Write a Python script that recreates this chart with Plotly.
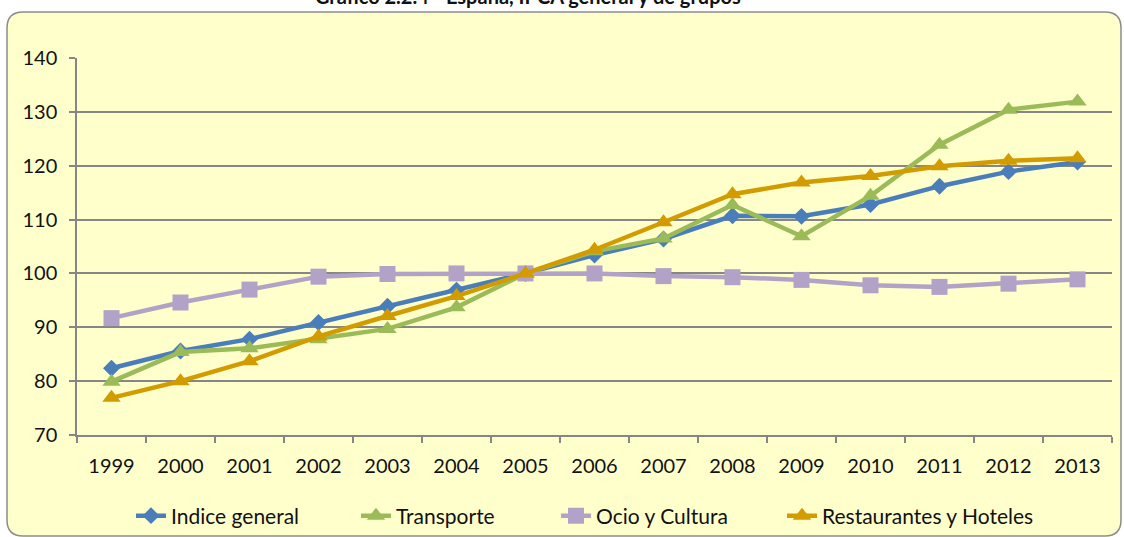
import plotly.graph_objects as go

years = [str(y) for y in range(1999, 2014)]
indice_general = [82.4, 85.6, 87.8, 90.9, 93.9, 96.9, 100.0, 103.4, 106.4, 110.7, 110.6, 112.8, 116.2, 118.9, 120.7]
transporte = [79.9, 85.4, 86.1, 87.8, 89.7, 93.7, 100.0, 104.1, 106.5, 112.7, 106.9, 114.4, 123.9, 130.4, 131.9]
ocio_cultura = [91.7, 94.6, 97.0, 99.4, 99.9, 100.0, 100.0, 100.0, 99.5, 99.3, 98.8, 97.8, 97.5, 98.1, 98.9]
restaurantes = [76.9, 80.0, 83.7, 88.3, 92.1, 95.8, 100.0, 104.4, 109.5, 114.7, 116.9, 118.1, 119.9, 120.9, 121.4]

FONT = "Lato, 'Open Sans', sans-serif"
W, H = 1124, 537
L, R, T, B = 77, 12, 58, 102
pw, ph = W - L - R, H - T - B


def px2x(p):
    return (p - L) / pw


def py2y(p):
    return (H - B - p) / ph


series = [
    ("Indice general", indice_general, "#4A7EBB", "diamond", 13, "legend", 131),
    ("Transporte", transporte, "#9BBB59", "triangle-up", 16, "legend2", 356),
    ("Ocio y Cultura", ocio_cultura, "#B3A2C7", "square", 16, "legend3", 556),
    ("Restaurantes y Hoteles", restaurantes, "#D29C00", "triangle-up", 16, "legend4", 782),
]

fig = go.Figure()
legends = {}
for name, vals, col, sym, sz, leg, lx in series:
    fig.add_trace(go.Scatter(
        x=years, y=vals, name=name, mode="lines+markers",
        line=dict(color=col, width=4.5),
        marker=dict(symbol=sym, size=sz, color=col),
        legend=leg,
    ))
    legends[leg] = dict(orientation="h", x=px2x(lx), y=py2y(516), xanchor="left", yanchor="middle",
                        bgcolor="rgba(0,0,0,0)", font=dict(family=FONT, size=21, color="#111111"))

# rounded frame
x0, x1 = px2x(7), px2x(1121)
y0, y1 = py2y(536), py2y(12)
rx, ry = 16 / pw, 16 / ph
path = (f"M {x0+rx},{y1} L {x1-rx},{y1} Q {x1},{y1} {x1},{y1-ry} "
        f"L {x1},{y0+ry} Q {x1},{y0} {x1-rx},{y0} "
        f"L {x0+rx},{y0} Q {x0},{y0} {x0},{y0+ry} "
        f"L {x0},{y1-ry} Q {x0},{y1} {x0+rx},{y1} Z")

fig.update_layout(
    width=W, height=H,
    margin=dict(l=L, r=R, t=T, b=B, autoexpand=False),
    paper_bgcolor="white",
    plot_bgcolor="#FFFFCC",
    font=dict(family=FONT, size=20, color="#111111"),
    shapes=[dict(type="path", path=path, xref="paper", yref="paper",
                 fillcolor="#FFFFCC", line=dict(color="#8C8C8C", width=1.5),
                 layer="below")],
    annotations=[dict(text="<b>Gráfico 2.2.4 - España, IPCA general y de grupos</b>",
                      x=px2x(528), y=py2y(-4), xref="paper", yref="paper",
                      showarrow=False, font=dict(family=FONT, size=20, color="#111111"),
                      xanchor="center", yanchor="middle")],
    showlegend=True,
    **legends,
)
fig.update_xaxes(
    type="category", range=[-0.5, 14.5], tickson="boundaries", ticks="outside", ticklen=6,
    tickcolor="#868686", tickwidth=1.5, showline=True, linecolor="#868686", linewidth=1.5,
    showgrid=False, tickfont=dict(family=FONT, size=20), ticklabelstandoff=12,
    automargin=False,
)
fig.update_yaxes(
    range=[70, 140], dtick=10, ticks="outside", ticklen=6, tickcolor="#868686", tickwidth=1.5,
    showline=True, linecolor="#868686", linewidth=1.5,
    showgrid=True, gridcolor="#868686", gridwidth=1.5, zeroline=False,
    tickfont=dict(family=FONT, size=20), automargin=False, ticklabelstandoff=8,
)

fig.write_html("out.html", config={"displayModeBar": False},
               post_script="document.body.style.margin='0';document.body.style.overflow='hidden';")
